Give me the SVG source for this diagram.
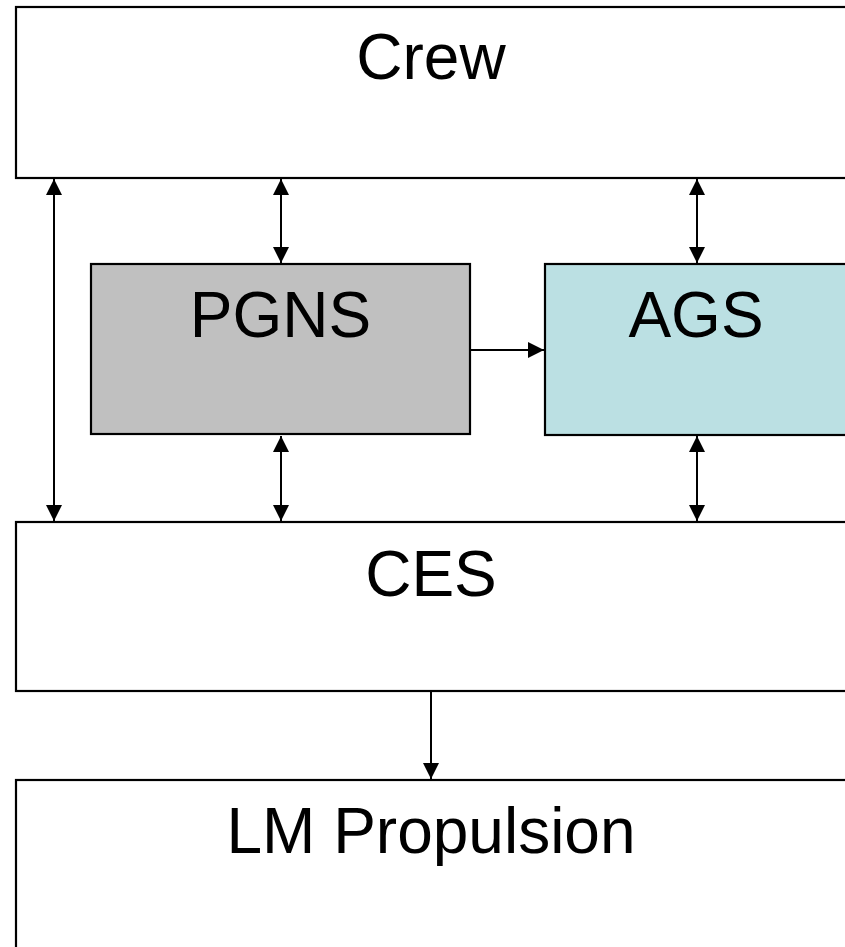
<svg xmlns="http://www.w3.org/2000/svg" width="845" height="947" viewBox="0 0 845 947">
  <style>
    .box { stroke: #000; stroke-width: 2.2; }
    .label { font-family: "Liberation Sans", Arial, sans-serif; font-size: 64px; fill: #000; text-anchor: middle; }
    .link { stroke: #000; stroke-width: 2; fill: none; }
  </style>
  <defs>
    <marker id="head" viewBox="0 0 16 16" refX="16" refY="8" markerWidth="16" markerHeight="16" markerUnits="userSpaceOnUse" orient="auto-start-reverse">
      <path d="M0,0 L16,8 L0,16 Z" fill="#000"/>
    </marker>
  </defs>
  <rect width="845" height="947" fill="#fff"/>

  <g id="crew">
    <rect class="box" x="16" y="7" width="832" height="171" fill="#fff"/>
    <text class="label" x="431" y="79">Crew</text>
  </g>
  <g id="pgns">
    <rect class="box" x="91" y="264" width="379" height="170" fill="#c0c0c0"/>
    <text class="label" x="280.5" y="337">PGNS</text>
  </g>
  <g id="ags">
    <rect class="box" x="545" y="264" width="303" height="171" fill="#bbe0e3"/>
    <text class="label" x="696" y="337">AGS</text>
  </g>
  <g id="ces">
    <rect class="box" x="16" y="522" width="832" height="169" fill="#fff"/>
    <text class="label" x="431" y="596">CES</text>
  </g>
  <g id="lm-propulsion">
    <rect class="box" x="16" y="780" width="832" height="180" fill="#fff"/>
    <text class="label" x="431" y="853">LM Propulsion</text>
  </g>

  <g id="connectors">
    <line class="link" x1="54" y1="179" x2="54" y2="521" marker-start="url(#head)" marker-end="url(#head)"/>
    <line class="link" x1="281" y1="179" x2="281" y2="263" marker-start="url(#head)" marker-end="url(#head)"/>
    <line class="link" x1="697" y1="179" x2="697" y2="263" marker-start="url(#head)" marker-end="url(#head)"/>
    <line class="link" x1="281" y1="436" x2="281" y2="521" marker-start="url(#head)" marker-end="url(#head)"/>
    <line class="link" x1="697" y1="436" x2="697" y2="521" marker-start="url(#head)" marker-end="url(#head)"/>
    <line class="link" x1="471" y1="350" x2="544" y2="350" marker-end="url(#head)"/>
    <line class="link" x1="431" y1="692" x2="431" y2="779" marker-end="url(#head)"/>
  </g>
</svg>
